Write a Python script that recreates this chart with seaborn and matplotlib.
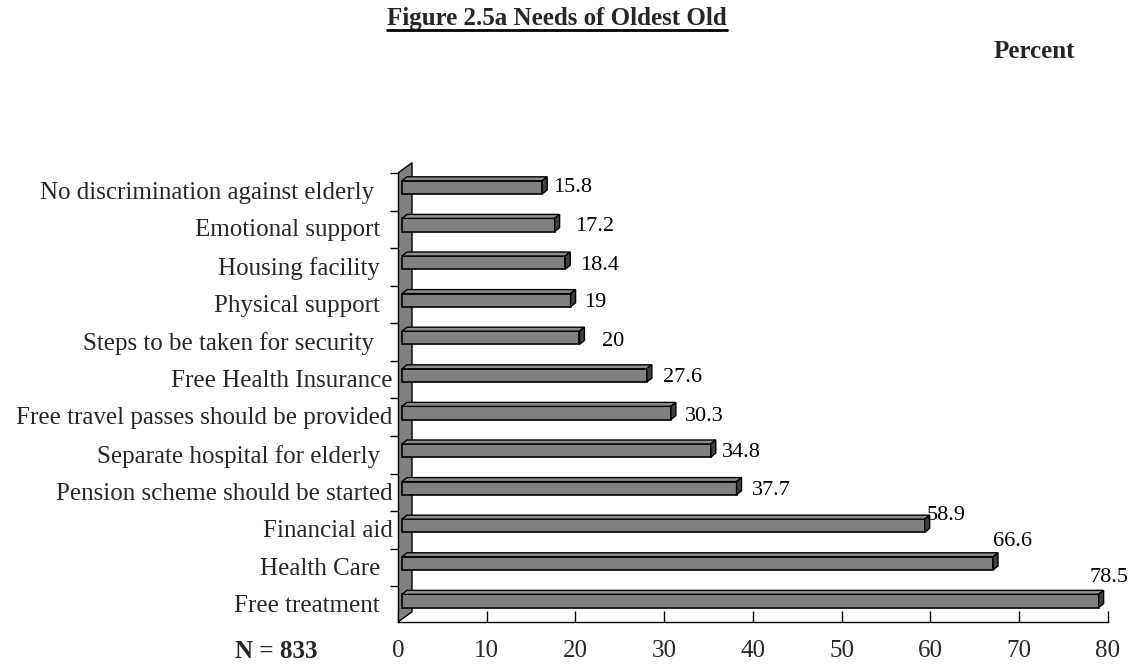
import matplotlib
matplotlib.use("Agg")
import numpy as np
import pandas as pd
import matplotlib.pyplot as plt
import matplotlib.transforms as mtrans
from matplotlib.patches import Polygon
from matplotlib.lines import Line2D
import seaborn as sns

# data, top bar first
needs = ["No discrimination against elderly   ", "Emotional support  ",
         "Housing facility  ", "Physical support  ",
         "Steps to be taken for security   ", "Free Health Insurance",
         "Free travel passes should be provided", "Separate hospital for elderly  ",
         "Pension scheme should be started", "Financial aid",
         "Health Care  ", "Free treatment  "]
percent = [15.8, 17.2, 18.4, 19, 20, 27.6, 30.3, 34.8, 37.7, 58.9, 66.6, 78.5]
pct_text = ["15.8", "17.2", "18.4", "19", "20", "27.6", "30.3", "34.8", "37.7",
            "58.9", "66.6", "78.5"]
x_ticks = [0, 10, 20, 30, 40, 50, 60, 70, 80]

# where the value labels sit relative to the bar end (pixels)
nudge_x = [11, 20, 15, 14, 23, 16, 14, 11, 15, 2, 0, -9]
nudge_y = [0, -2, -3, -2, -4, -2, -4, -2, -2, 10, 22, 23]

sns.set_theme(style="white")
plt.rcParams['font.family'] = ['Liberation Serif', 'DejaVu Serif']

df = pd.DataFrame({"need": needs, "pct": percent})

fig = plt.figure(figsize=(11.42, 6.67), dpi=100)
ax = fig.add_axes([0.3485, 0.0675, 0.6217, 0.6927])

sns.barplot(data=df, y="need", x="pct", orient="h", width=0.35,
            color="#808080", saturation=1, edgecolor="black",
            linewidth=1.2, ax=ax, zorder=3)

# fake 3d look: shift front faces, add top + side faces
shift = 0.45
ddx, ddy = 0.56, 0.106
for p in ax.patches:
    p.set_x(p.get_x() + shift)
    x0, y0, w, h = p.get_x(), p.get_y(), p.get_width(), p.get_height()
    top = Polygon([(x0, y0), (x0 + ddx, y0 - ddy), (x0 + w + ddx, y0 - ddy), (x0 + w, y0)],
                  closed=True, facecolor="#8c8c8c", edgecolor="black", lw=1.0, zorder=3)
    side = Polygon([(x0 + w, y0), (x0 + w + ddx, y0 - ddy), (x0 + w + ddx, y0 + h - ddy), (x0 + w, y0 + h)],
                   closed=True, facecolor="#404040", edgecolor="black", lw=1.0, zorder=3)
    ax.add_patch(top)
    ax.add_patch(side)

ylo, yhi = 11.56, -0.385
ax.set_ylim(ylo, -0.73)
ax.set_xlim(0, 80)

# the grey wall on the left
wall = Polygon([(0, ylo), (0, yhi), (1.58, yhi - 0.27), (1.58, ylo - 0.27)],
               closed=True, facecolor="#808080", edgecolor="black", lw=1.0, zorder=2)
ax.add_patch(wall)

bars = [p for p in ax.patches if isinstance(p, matplotlib.patches.Rectangle)]
for p, txt, nx, ny in zip(bars, pct_text, nudge_x, nudge_y):
    ax.annotate(txt, xy=(p.get_x() + p.get_width(), p.get_y() + p.get_height() / 2),
                xytext=(nx, ny), textcoords="offset pixels",
                ha="left", va="center", fontsize=16, color="black",
                annotation_clip=False)

for s in ["top", "right"]:
    ax.spines[s].set_visible(False)
for s in ["left", "bottom"]:
    ax.spines[s].set_color("black")
    ax.spines[s].set_linewidth(1.0)
ax.spines["left"].set_bounds(yhi, ylo)

ax.set_xticks(x_ticks)
ax.set_xticklabels([str(t) for t in x_ticks])
ax.tick_params(axis="x", direction="in", length=8, width=1, color="black",
               labelsize=18, pad=13, bottom=True)
ax.tick_params(axis="y", which="major", length=0, labelsize=18, pad=4)
ax.set_yticks(np.arange(len(needs)) + yhi, minor=True)
ax.tick_params(axis="y", which="minor", direction="out", length=6, width=1,
               color="black", left=True)
ax.set_xlabel("")
ax.set_ylabel("")
ax.grid(False)

down = mtrans.ScaledTranslation(0, -0.03, fig.dpi_scale_trans)
for lab in ax.get_yticklabels():
    lab.set_transform(lab.get_transform() + down)

title = fig.text(557 / 1142, 1 - 25 / 667, "Figure 2.5a Needs of Oldest Old",
                 ha="center", va="baseline", fontsize=18, fontweight="bold")
fig.text(1034 / 1142, 1 - 51 / 667, "Percent", ha="center", va="center",
         fontsize=18, fontweight="bold")
fig.text(276 / 1142, 1 - 652 / 667, "N = 833", ha="center", va="center",
         fontsize=18, fontweight="bold")

fig.canvas.draw()
bb = title.get_window_extent(fig.canvas.get_renderer())
bb = bb.transformed(fig.transFigure.inverted())
fig.add_artist(Line2D([bb.x0, bb.x1], [1 - 30 / 667, 1 - 30 / 667],
                      transform=fig.transFigure, color="black", lw=2))

fig.savefig("out.png", dpi=100)
